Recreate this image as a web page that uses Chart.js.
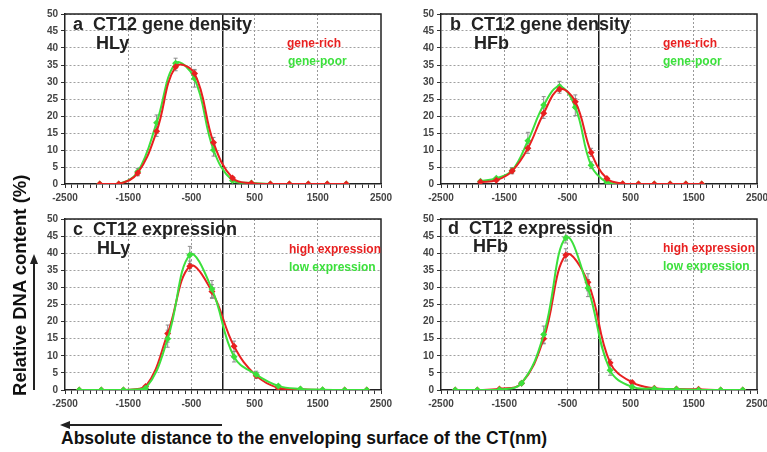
<!DOCTYPE html>
<html>
<head>
<meta charset="utf-8">
<script src="https://cdn.jsdelivr.net/npm/chart.js@4.4.0/dist/chart.umd.min.js"></script>
<style>
body { margin: 0; background: #fff; width: 767px; height: 452px; overflow: hidden; position: relative; font-family: 'Liberation Sans', Arial, sans-serif; }
.box { position: absolute; }
.t { position: absolute; font-weight: bold; white-space: pre; line-height: 1; }
.title { font-size: 18px; color: #222; }
.leg { font-size: 12px; }
.red { color: #e82020; }
.green { color: #3ce03c; }
</style>
</head>
<body>
<div class="box" style="left:0;top:0"><canvas id="pa" width="400" height="212"></canvas></div>
<div class="box" style="left:384px;top:0"><canvas id="pb" width="383" height="212"></canvas></div>
<div class="box" style="left:0;top:212px"><canvas id="pc" width="400" height="206"></canvas></div>
<div class="box" style="left:384px;top:212px"><canvas id="pd" width="383" height="206"></canvas></div>

<div class="t title" style="left:73px;top:15px">a  CT12 gene density</div>
<div class="t title" style="left:96px;top:34px">HLy</div>
<div class="t leg red" style="left:287px;top:37px">gene-rich</div>
<div class="t leg green" style="left:288px;top:55px">gene-poor</div>

<div class="t title" style="left:450px;top:15px">b  CT12 gene density</div>
<div class="t title" style="left:474px;top:34px">HFb</div>
<div class="t leg red" style="left:663px;top:37px">gene-rich</div>
<div class="t leg green" style="left:663px;top:55px">gene-poor</div>

<div class="t title" style="left:73px;top:220px">c  CT12 expression</div>
<div class="t title" style="left:97px;top:239px">HLy</div>
<div class="t leg red" style="left:289px;top:243px">high expression</div>
<div class="t leg green" style="left:289px;top:261px">low expression</div>

<div class="t title" style="left:448px;top:219px">d  CT12 expression</div>
<div class="t title" style="left:473px;top:237px">HFb</div>
<div class="t leg red" style="left:663px;top:242px">high expression</div>
<div class="t leg green" style="left:663px;top:260px">low expression</div>

<!-- axis titles and arrows -->
<div class="t" style="font-size:18.5px;color:#111;width:260px;text-align:center;left:-110px;top:276px;transform:rotate(-90deg)">Relative DNA content (%)</div>
<div style="position:absolute;left:33px;top:262px;width:2px;height:128px;background:#222"></div>
<div style="position:absolute;left:30px;top:254px;width:0;height:0;border-left:4px solid transparent;border-right:4px solid transparent;border-bottom:10px solid #222"></div>

<div class="t" style="font-size:17.5px;color:#111;left:61px;top:430px">Absolute distance to the enveloping surface of the CT(nm)</div>
<div style="position:absolute;left:68px;top:424px;width:154px;height:2px;background:#222"></div>
<div style="position:absolute;left:60px;top:421px;width:0;height:0;border-top:4px solid transparent;border-bottom:4px solid transparent;border-right:10px solid #222"></div>

<script>
// a: CT12 gene density, HLy
const xA = [-1950, -1650, -1350, -1050, -750, -450, -150, 150, 450, 750, 1050, 1350, 1650, 1950];
const richA = [0, 0, 3.2, 15.5, 34.5, 32.5, 12.2, 1.8, 0.2, 0, 0, 0, 0, 0];
const poorA = [0, 0, 3.6, 18, 35.5, 31, 10, 1.0, 0.3, 0, 0, 0, 0, 0];
const richErrA = [0, 0, 0.8, 1.5, 1.2, 1.2, 1.5, 0.4, 0, 0, 0, 0, 0, 0];
const poorErrA = [0, 0, 1.0, 2.3, 1.5, 2.5, 1.8, 0.3, 0, 0, 0, 0, 0, 0];

// b: CT12 gene density, HFb
const xB = [-1875, -1625, -1375, -1125, -875, -625, -375, -125, 125, 375, 625, 875, 1125, 1375, 1625];
const richB = [0.6, 1.1, 3.8, 10.5, 20.8, 27.9, 24.2, 9.3, 1.6, 0.1, 0, 0, 0, 0, 0];
const poorB = [0.8, 1.7, 4.0, 12.7, 23.2, 28.7, 22.6, 5.5, 0.5, 0, 0, 0, 0, 0, 0];
const richErrB = [0, 0, 0.8, 1.5, 1.5, 1.2, 2.0, 1.2, 0.3, 0, 0, 0, 0, 0, 0];
const poorErrB = [0, 0, 0.8, 2.5, 2.5, 1.5, 2.5, 1.0, 0, 0, 0, 0, 0, 0, 0];

// c: CT12 expression, HLy
const xC = [-2275, -1925, -1575, -1225, -875, -525, -175, 175, 525, 875, 1225, 1575, 1925, 2275];
const highC = [0, 0, 0, 1.0, 16.5, 36.2, 28.8, 12.8, 4.2, 0.6, 0.2, 0, 0, 0];
const lowC = [0, 0, 0, 0.5, 15, 39.5, 29.5, 9.7, 4.5, 1.2, 0.3, 0.1, 0, 0];
const highErrC = [0, 0, 0, 0.3, 2.5, 1.5, 2.0, 1.5, 0.8, 0.3, 0, 0, 0, 0];
const lowErrC = [0, 0, 0, 0.3, 2.5, 2.5, 2.5, 1.5, 1.0, 0.3, 0, 0, 0, 0];

// d: CT12 expression, HFb
const xD = [-2275, -1925, -1575, -1225, -875, -525, -175, 175, 525, 875, 1225, 1575, 1925, 2275];
const highD = [0, 0, 0.3, 2.0, 15, 39.5, 31.5, 8.0, 2.2, 0.5, 0.3, 0.2, 0, 0];
const lowD = [0, 0, 0.1, 2.0, 16.2, 44.5, 29.8, 5.8, 0.9, 0.4, 0.2, 0, 0, 0];
const highErrD = [0, 0, 0.2, 0.4, 1.5, 1.8, 2.5, 1.0, 0.4, 0, 0, 0, 0, 0];
const lowErrD = [0, 0, 0, 0.4, 2.5, 1.5, 2.5, 1.5, 0.3, 0, 0, 0, 0, 0];

const xLabels = [-2500, -1500, -500, 500, 1500, 2500];
const RED = '#e82020', GREEN = '#3ce03c';

Chart.defaults.font.family = "'Liberation Sans', Arial, sans-serif";

const errorBars = {
  id: 'errorBars',
  beforeDatasetsDraw(chart) {
    const { ctx, scales: { x, y } } = chart;
    ctx.save();
    ctx.strokeStyle = '#8a8a8a';
    ctx.lineWidth = 1;
    chart.data.datasets.forEach(ds => {
      ds.data.forEach((p, i) => {
        const e = ds.errors[i];
        if (!e) return;
        const px = x.getPixelForValue(p.x);
        const y1 = y.getPixelForValue(p.y + e), y2 = y.getPixelForValue(p.y - e);
        ctx.beginPath();
        ctx.moveTo(px, y1); ctx.lineTo(px, y2);
        ctx.moveTo(px - 2, y1); ctx.lineTo(px + 2, y1);
        ctx.moveTo(px - 2, y2); ctx.lineTo(px + 2, y2);
        ctx.stroke();
      });
    });
    ctx.restore();
  }
};

const frame = {
  id: 'frame',
  afterDatasetsDraw(chart) {
    const { ctx, chartArea: a } = chart;
    ctx.save();
    ctx.strokeStyle = '#222';
    ctx.lineWidth = 1.5;
    ctx.beginPath();
    ctx.moveTo(a.left, a.top); ctx.lineTo(a.right, a.top); ctx.lineTo(a.right, a.bottom);
    ctx.stroke();
    ctx.restore();
  }
};

function isGridX(v) {
  return v === -1500 || v === -500 || v === 500 || v === 1500;
}

function makePanel(id, xs, series, yWidth, padding) {
  new Chart(document.getElementById(id), {
    type: 'line',
    data: {
      datasets: series.map(s => ({
        data: xs.map((x, i) => ({ x: x, y: s.values[i] })),
        errors: s.errors,
        borderColor: s.color,
        backgroundColor: s.color,
        borderWidth: 2,
        tension: 0.4,
        pointStyle: 'rectRot',
        pointRadius: 3.5,
        pointBorderWidth: 0,
        fill: false
      }))
    },
    options: {
      responsive: false,
      animation: false,
      events: [],
      layout: { padding: padding },
      plugins: { legend: { display: false }, tooltip: { enabled: false } },
      scales: {
        x: {
          type: 'linear', min: -2500, max: 2500,
          afterFit(s) { s.height = 28; s.paddingLeft = 0; s.paddingRight = 0; },
          ticks: {
            stepSize: 100, autoSkip: false, maxRotation: 0, minRotation: 0, padding: 4,
            color: '#444', font: { size: 10, weight: 'bold' },
            callback: v => xLabels.includes(Math.round(v)) ? String(Math.round(v)) : ''
          },
          grid: {
            color: c => {
              if (!c.tick) return '#222';
              const v = Math.round(c.tick.value);
              if (v === 0) return '#1a1a1a';
              return isGridX(v) ? '#999999' : 'rgba(0,0,0,0)';
            },
            lineWidth: c => (c.tick && Math.round(c.tick.value) === 0) ? 1.5 : 1,
            tickColor: '#333', tickLength: 4, tickWidth: 1
          },
          border: {
            color: '#222', width: 1.5,
            dash: c => (c.tick && Math.round(c.tick.value) === 0) ? [] : [2, 2]
          }
        },
        y: {
          min: 0, max: 50,
          afterFit(s) { s.width = yWidth; s.paddingTop = 0; s.paddingBottom = 0; },
          ticks: { stepSize: 5, padding: 3, color: '#444', font: { size: 10, weight: 'bold' } },
          grid: {
            color: c => (c.tick && c.tick.value === 0) ? 'rgba(0,0,0,0)' : '#a0a0a0',
            tickColor: '#333', tickLength: 4
          },
          border: { color: '#222', width: 1.5, dash: [2, 2] }
        }
      }
    },
    plugins: [errorBars, frame]
  });
}

makePanel('pa', xA, [
  { values: richA, errors: richErrA, color: RED },
  { values: poorA, errors: poorErrA, color: GREEN }
], 65, { left: 0, top: 14, right: 19, bottom: 0 });

makePanel('pb', xB, [
  { values: richB, errors: richErrB, color: RED },
  { values: poorB, errors: poorErrB, color: GREEN }
], 57, { left: 0, top: 14, right: 10, bottom: 0 });

makePanel('pc', xC, [
  { values: lowC, errors: lowErrC, color: GREEN },
  { values: highC, errors: highErrC, color: RED }
], 65, { left: 0, top: 7, right: 19, bottom: 0 });

makePanel('pd', xD, [
  { values: lowD, errors: lowErrD, color: GREEN },
  { values: highD, errors: highErrD, color: RED }
], 57, { left: 0, top: 7, right: 10, bottom: 0 });
</script>
</body>
</html>
